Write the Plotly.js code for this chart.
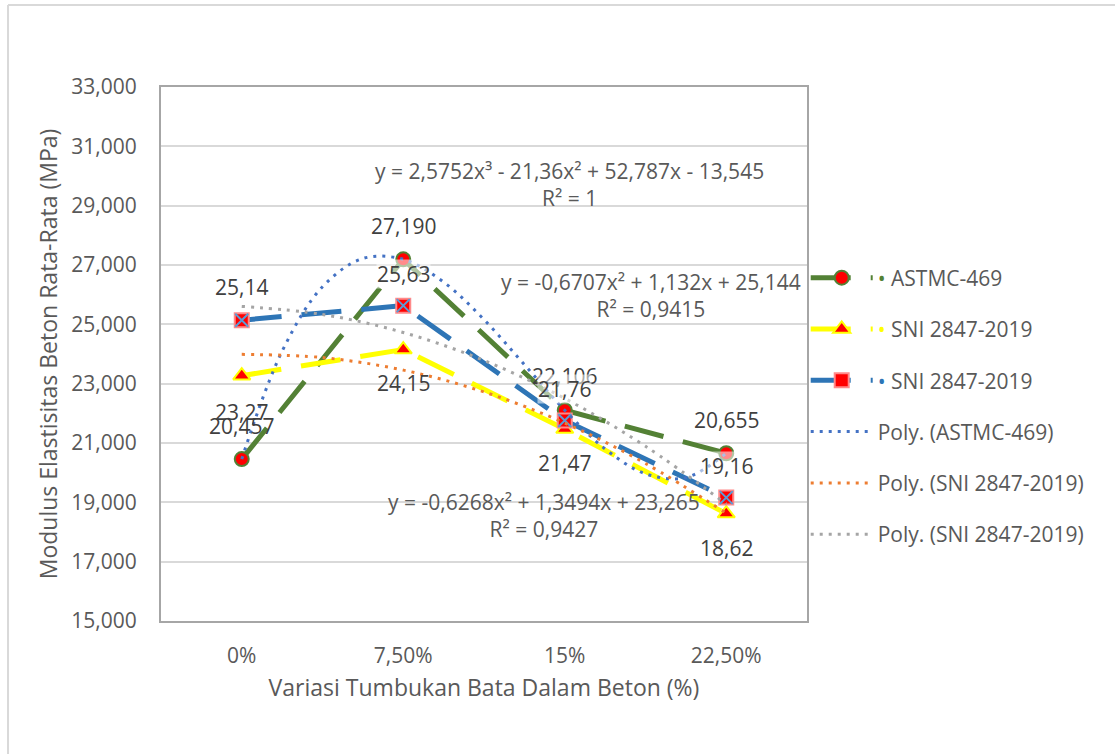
<!DOCTYPE html>
<html>
<head>
<meta charset="utf-8">
<script src="https://cdn.plot.ly/plotly-3.0.1.min.js"></script>
<style>html,body{margin:0;padding:0;background:#fff;}#chart{width:1115px;height:754px;}</style>
</head>
<body>
<div id="chart"></div>
<script>
// Categories
const categories = ['0%', '7,50%', '15%', '22,50%'];
const catPos = [1, 2, 3, 4];

// Series values (MPa)
const astm = [20457, 27190, 22106, 20655];
const sniYellow = [23270, 24150, 21470, 18620];
const sniBlue = [25140, 25630, 21760, 19160];

// Data label texts
const astmLabels = ['20,457', '27,190', '22,106', '20,655'];
const sniYellowLabels = ['23,27', '24,15', '21,47', '18,62'];
const sniBlueLabels = ['25,14', '25,63', '21,76', '19,16'];

// Trendline values
const trendAstmX = [1, 1.25, 1.5, 1.75, 2, 2.25, 2.5, 2.75, 3, 3.25, 3.5, 3.75, 4];
const trendAstmY = [20457, 24094, 26267, 27219, 27190, 26424, 25160, 23640, 22106, 20800, 19962, 19833, 20656];
const trendQuadX = [1, 1.5, 2, 2.5, 3, 3.5, 4];
const trendYellowY = [23988, 23879, 23457, 22721, 21672, 20310, 18634];
const trendBlueY = [25605, 25333, 24725, 23782, 22504, 20890, 18941];

// Y ticks
const yTicks = [15000, 17000, 19000, 21000, 23000, 25000, 27000, 29000, 31000, 33000];

// Equation texts
const eqAstm = 'y = 2,5752x³ - 21,36x² + 52,787x - 13,545<br>R² = 1';
const eqBlue = 'y = -0,6707x² + 1,132x + 25,144<br>R² = 0,9415';
const eqYellow = 'y = -0,6268x² + 1,3494x + 23,265<br>R² = 0,9427';

const FONT = 'Open Sans, Noto Sans, sans-serif';
const TXT = '#595959';

const traces = [
  {x: catPos, y: astm, type: 'scatter', mode: 'lines+markers',
   name: '<span style="color:#538135">•</span> ASTMC-469', legendgroup: 'a',
   line: {color: '#538135', width: 5, dash: '40px,20px'},
   marker: {symbol: 'circle', size: 14, color: '#ff0000', line: {color: '#538135', width: 2}}},
  {x: catPos, y: sniYellow, type: 'scatter', mode: 'lines+markers',
   name: '<span style="color:#ffff00">•</span> SNI 2847-2019', legendgroup: 'b',
   line: {color: '#ffff00', width: 5, dash: '40px,20px'},
   marker: {symbol: 'triangle-up', size: 15, color: '#ff0000', line: {color: '#ffff00', width: 2}}},
  {x: catPos, y: sniBlue, type: 'scatter', mode: 'lines+markers',
   name: '<span style="color:#2e75b6">•</span> SNI 2847-2019', legendgroup: 'c',
   line: {color: '#2e75b6', width: 5, dash: '40px,20px'},
   marker: {symbol: 'square', size: 14, color: '#ff0000', line: {color: '#ff8a8a', width: 2}}},
  {x: catPos, y: sniBlue, type: 'scatter', mode: 'markers', showlegend: false, legendgroup: 'c',
   marker: {symbol: 'x-thin-open', size: 13, color: '#5b9bd5', line: {color: '#5b9bd5', width: 2}}, hoverinfo: 'skip'},
  {x: trendAstmX, y: trendAstmY, type: 'scatter', mode: 'lines', name: 'Poly. (ASTMC-469)', legendgroup: 'd',
   line: {color: '#4472c4', width: 3, dash: '3px,6px', shape: 'spline'}},
  {x: trendQuadX, y: trendYellowY, type: 'scatter', mode: 'lines', name: 'Poly. (SNI 2847-2019)', legendgroup: 'e',
   line: {color: '#ed7d31', width: 3, dash: '3px,6px', shape: 'spline'}},
  {x: trendQuadX, y: trendBlueY, type: 'scatter', mode: 'lines', name: 'Poly. (SNI 2847-2019)', legendgroup: 'f',
   line: {color: '#a5a5a5', width: 3, dash: '3px,6px', shape: 'spline'}}
];

const annotations = [];
function addLabels(vals, texts, shifts, bg) {
  vals.forEach((v, i) => {
    annotations.push({x: catPos[i], y: v, xref: 'x', yref: 'y', text: texts[i], showarrow: false,
      xanchor: 'center', yanchor: 'middle',
      yshift: shifts[i], font: {family: FONT, size: 21, color: '#404040'},
      bgcolor: bg, borderpad: 0});
  });
}
addLabels(astm, astmLabels, [33, 33, 34, 33], 'rgba(0,0,0,0)');
addLabels(sniYellow, sniYellowLabels, [-36, -33, -34, -34], 'rgba(0,0,0,0)');
addLabels(sniBlue, sniBlueLabels, [33, 32, 31, 32], 'rgba(255,255,255,0.55)');

const eqFont = {family: FONT, size: 21, color: TXT};
annotations.push({xref: 'paper', yref: 'paper', x: 0.633, y: 0.8174, xanchor: 'center', yanchor: 'middle', text: eqAstm, showarrow: false, font: eqFont, align: 'center'});
annotations.push({xref: 'paper', yref: 'paper', x: 0.7585, y: 0.6096, xanchor: 'center', yanchor: 'middle', text: eqBlue, showarrow: false, font: eqFont, align: 'center'});
annotations.push({xref: 'paper', yref: 'paper', x: 0.593, y: 0.1985, xanchor: 'center', yanchor: 'middle', text: eqYellow, showarrow: false, font: eqFont, align: 'center'});

const layout = {
  width: 1115, height: 754,
  margin: {l: 161, r: 308, t: 87, b: 133},
  paper_bgcolor: '#ffffff', plot_bgcolor: '#ffffff',
  font: {family: FONT, size: 21, color: TXT},
  showlegend: true,
  legend: {x: 0.998, xanchor: 'left', y: 0.6806, yanchor: 'top', traceorder: 'grouped', tracegroupgap: 21,
           itemwidth: 62, font: {family: FONT, size: 21, color: TXT}, bgcolor: 'rgba(0,0,0,0)'},
  xaxis: {range: [0.5, 4.5], tickvals: catPos, ticktext: categories, showgrid: false, zeroline: false,
          showline: true, linecolor: '#a6a6a6', linewidth: 2, mirror: true, ticks: '',
          ticklabelstandoff: 15, tickfont: {family: FONT, size: 21, color: TXT},
          title: {text: 'Variasi Tumbukan Bata Dalam Beton (%)', font: {family: FONT, size: 23, color: TXT}, standoff: 12}},
  yaxis: {range: [15000, 33000], tickvals: yTicks, tickformat: ',', showgrid: true, gridcolor: '#d9d9d9', gridwidth: 2,
          zeroline: false, showline: true, linecolor: '#a6a6a6', linewidth: 2, mirror: true, ticks: '',
          ticklabelstandoff: 18, tickfont: {family: FONT, size: 21, color: TXT},
          title: {text: 'Modulus Elastisitas Beton Rata-Rata (MPa)', font: {family: FONT, size: 23, color: TXT}, standoff: 7}},
  annotations: annotations,
  shapes: [
    {type: 'line', xref: 'paper', yref: 'paper', x0: -0.2368, x1: 1.5, y0: 1.1536, y1: 1.1536, line: {color: '#d9d9d9', width: 2}},
    {type: 'line', xref: 'paper', yref: 'paper', x0: -0.2368, x1: -0.2368, y0: 1.1536, y1: -0.3, line: {color: '#d9d9d9', width: 2}}
  ]
};

Plotly.newPlot('chart', traces, layout, {displayModeBar: false, staticPlot: true});
</script>
</body>
</html>
